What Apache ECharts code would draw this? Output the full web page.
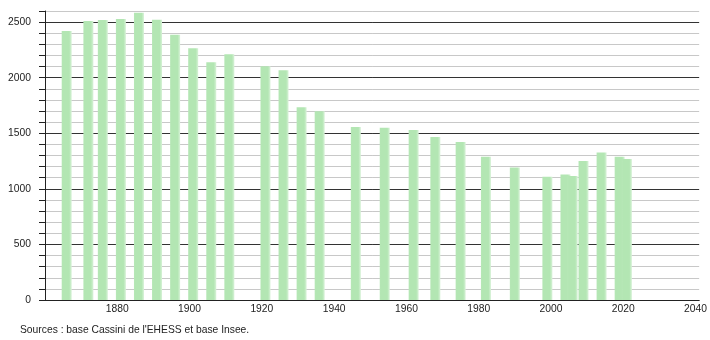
<!DOCTYPE html>
<html>
<head>
<meta charset="utf-8">
<script src="https://cdn.jsdelivr.net/npm/echarts@6/dist/echarts.min.js"></script>
<style>
html,body{margin:0;padding:0;background:#fff;}
#c{width:710px;height:340px;}
</style>
</head>
<body>
<div id="c"></div>
<script>
const years = [1866,1872,1876,1881,1886,1891,1896,1901,1906,1911,1921,1926,1931,1936,1946,1954,1962,1968,1975,1982,1990,1999,2004,2006,2009,2014,2019,2021];
const population = [2420,2509,2518,2527,2584,2521,2386,2266,2140,2212,2102,2068,1733,1697,1556,1549,1529,1466,1421,1289,1193,1108,1130,1115,1250,1328,1289,1268];
const xTickLabels = [1880,1900,1920,1940,1960,1980,2000,2020,2040];
const sourceText = "Sources : base Cassini de l'EHESS et base Insee.";

const chart = echarts.init(document.getElementById('c'), null, {renderer:'canvas'});
const font = 'Liberation Sans, Arial, sans-serif';
const fs = 10.3;
const barColor = new echarts.graphic.LinearGradient(0,0,1,0,[
  {offset:0, color:'#b9e8b9'},
  {offset:0.1, color:'#b3e6b3'},
  {offset:0.75, color:'#b3e6b3'},
  {offset:1, color:'#d8f2d8'}
]);
chart.setOption({
  animation:false,
  backgroundColor:'#fff',
  grid:{left:45, right:9, top:11, bottom:40},
  xAxis:{
    type:'value', min:1860, max:2041,
    axisLine:{show:true, lineStyle:{color:'#222', width:1}},
    axisTick:{show:false},
    splitLine:{show:false},
    axisLabel:{customValues:xTickLabels, formatter:function(v){return String(v);}, color:'#222', fontSize:fs, fontFamily:font, margin:4}
  },
  yAxis:[{
    type:'value', min:0, max:2600, interval:100,
    axisLine:{show:true, lineStyle:{color:'#222'}},
    axisTick:{show:true, length:3, lineStyle:{color:'#222'}},
    axisLabel:{show:false},
    splitLine:{show:true, lineStyle:{color:['#333','#c8c8c8','#c8c8c8','#c8c8c8','#c8c8c8'], width:1}}
  },{
    type:'value', min:0, max:2600, interval:100, position:'left',
    axisLine:{show:false},
    axisTick:{show:true, length:6, interval:function(i){return i%5===0;}, lineStyle:{color:'#222'}},
    axisLabel:{formatter:function(v){return v%500===0 ? String(v) : '';}, color:'#222', fontSize:fs, fontFamily:font, margin:14},
    splitLine:{show:false}
  }],
  series:[{
    type:'bar',
    yAxisIndex:0,
    barWidth:10,
    data: years.map((y,i)=>[y, population[i]]),
    itemStyle:{color:barColor},
    z:1
  }],
  graphic:[{
    type:'text', left:20, top:325,
    style:{text:sourceText, fill:'#222', font:fs+'px '+font}
  }]
});
</script>
</body>
</html>
